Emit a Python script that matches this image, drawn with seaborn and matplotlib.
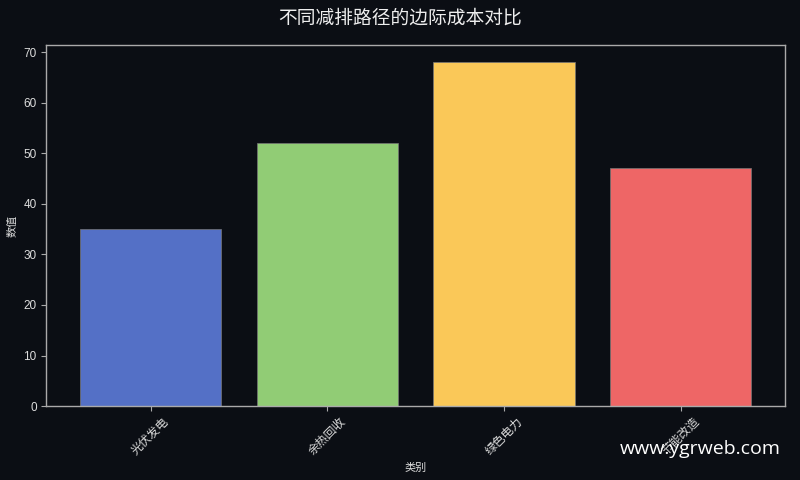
import matplotlib
matplotlib.use("Agg")
import matplotlib.pyplot as plt
import pandas as pd
import seaborn as sns

# chart data
categories = ["光伏发电", "余热回收", "绿色电力", "节能改造"]
values = [35, 52, 68, 47]
bar_colors = ["#5470c6", "#91cc75", "#fac858", "#ee6666"]

BG = "#0b0e14"
FG = "#dddddd"

sns.set_theme(style="dark")
plt.rcParams["font.family"] = ["Liberation Sans", "Noto Sans CJK SC", "DejaVu Sans"]
plt.rcParams["axes.unicode_minus"] = False


def main():
    df = pd.DataFrame({"类别": categories, "数值": values})

    fig = plt.figure(figsize=(8, 4.8), dpi=100, facecolor=BG)
    ax = fig.add_axes([0.058, 0.154, 0.923, 0.752])
    ax.set_facecolor(BG)

    sns.barplot(data=df, x="类别", y="数值", hue="类别", palette=bar_colors,
                legend=False, width=0.8, saturation=1,
                edgecolor="#777777", linewidth=0.5, ax=ax)
    ax.set_xlim(-0.59, 3.59)
    ax.set_ylim(0, 71.4)

    for spine in ax.spines.values():
        spine.set_color("#aaaaaa")
        spine.set_linewidth(1.0)
    ax.tick_params(axis="both", colors="#aaaaaa", labelcolor=FG, labelsize=8.5,
                   length=3.5, width=0.8, bottom=True, left=True)
    plt.setp(ax.get_xticklabels(), rotation=45)
    ax.grid(False)

    ax.set_xlabel("类别", color=FG, fontsize=8)
    ax.set_ylabel("数值", color=FG, fontsize=8)
    fig.suptitle("不同减排路径的边际成本对比", color="#eeeeee", fontsize=13.5,
                 y=0.985, family=["Noto Sans CJK SC", "DejaVu Sans"])

    fig.text(0.976, 0.065, "www.ygrweb.com", color="white", fontsize=14,
             ha="right", va="center", family=["Open Sans", "DejaVu Sans"])

    fig.savefig("out.png", dpi=100, facecolor=BG)


if __name__ == "__main__":
    main()
